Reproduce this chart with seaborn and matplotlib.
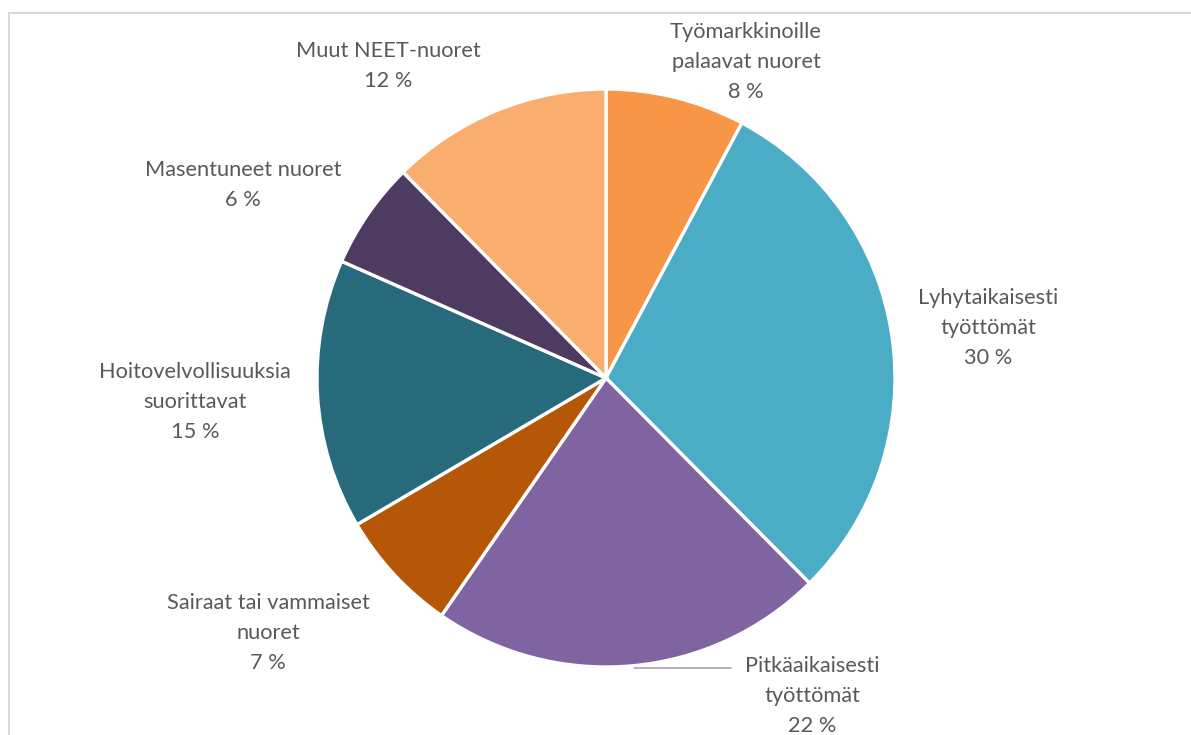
import matplotlib
matplotlib.use("Agg")
import matplotlib.pyplot as plt
import seaborn as sns
from matplotlib.patches import Rectangle

categories = ["Työmarkkinoille\npalaavat nuoret", "Lyhytaikaisesti\ntyöttömät",
              "Pitkäaikaisesti\ntyöttömät", "Sairaat tai vammaiset\nnuoret",
              "Hoitovelvollisuuksia\nsuorittavat", "Masentuneet nuoret",
              "Muut NEET-nuoret"]
values = [7.8, 29.8, 22.1, 6.9, 15.1, 6.0, 12.4]
colors = ["#F79646", "#4BACC6", "#8064A2", "#B65708", "#276A7C", "#4D3B62", "#F9AE6F"]

sns.set_theme(style="white")
plt.rcParams['font.family'] = ['Lato', 'DejaVu Sans']

W, H = 1191, 735
fig = plt.figure(figsize=(W / 100, H / 100), dpi=100)
ax = fig.add_axes([0, 0, 1, 1])

cx, cy, r = 606, H - 378, 289
ax.pie(values, colors=colors, startangle=90, counterclock=False,
       center=(cx, cy), radius=r, frame=True,
       wedgeprops=dict(edgecolor="white", linewidth=2.4))
ax.set_xlim(0, W)
ax.set_ylim(0, H)
ax.axis("off")

# label anchor positions (pixels, center of text block)
label_pos = [(746, 62), (988, 328), (812, 696), (268, 633), (195, 402), (243, 185), (388, 66)]
for cat, v, (lx, ly) in zip(categories, values, label_pos):
    ax.text(lx, H - ly, f"{cat}\n{v:.0f} %", ha="center", va="center",
            fontsize=15.7, color="#595959", linespacing=1.6)

# leader line for Pitkäaikaisesti
ax.plot([634, 731], [H - 668, H - 668], color="#A6A6A6", lw=1.2)

# chart frame
ax.add_patch(Rectangle((9, -10), W + 20, H - 13 + 10, fill=False,
                       edgecolor="#D9D9D9", lw=1.5))

fig.savefig("out.png", dpi=100)
